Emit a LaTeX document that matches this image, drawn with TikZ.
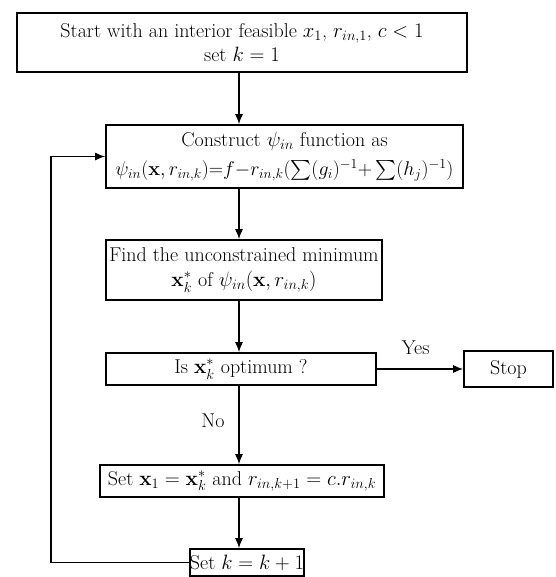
\documentclass[tikz,border=0pt]{standalone}
\usepackage{amsmath}
\usetikzlibrary{arrows.meta}
\begin{document}
\begin{tikzpicture}[x=1pt,y=-1pt,
  box/.style={draw,line width=1.8pt,align=center,inner sep=0pt,font=\fontsize{20}{24}\selectfont},
  conn/.style={line width=1.1pt,-{Latex[length=10pt,width=8pt]}},
  lbl/.style={font=\fontsize{20}{24}\selectfont,inner sep=0pt}]
\useasboundingbox (0,0) rectangle (555,577);
\node[box,minimum width=450pt,minimum height=59pt] (b1) at (242,42.5)
  {Start with an interior feasible $x_1$, $r_{in,1}$, $c<1$\\ set $k=1$};
\node[box,minimum width=357pt,minimum height=63pt] (b2) at (284.5,156.5)
  {Construct $\psi_{in}$ function as\\[5pt] \resizebox{338pt}{!}{$\psi_{in}(\mathbf{x},r_{in,k}){=}f{-}r_{in,k}(\sum(g_i)^{-1}{+}\sum(h_j)^{-1})$}};
\node[box,minimum width=276pt,minimum height=60pt] (b3) at (244,270)
  {Find the unconstrained minimum\\[1pt] $\mathbf{x}_k^*$ of $\psi_{in}(\mathbf{x},r_{in,k})$};
\node[box,minimum width=270pt,minimum height=32pt] (b4) at (241,369)
  {Is $\mathbf{x}_k^*$ optimum ?};
\node[box,minimum width=89pt,minimum height=36pt] (stop) at (508.5,369) {Stop};
\node[box,minimum width=284pt,minimum height=32pt] (b5) at (242,481)
  {Set $\mathbf{x}_1=\mathbf{x}_k^*$ and $r_{in,k+1}=c.r_{in,k}$};
\node[box,minimum width=112pt,minimum height=27pt] (b6) at (247,562.5)
  {Set $k=k+1$};
\coordinate (ax) at (239,0);
\coordinate (lb) at (51,562.5);
\coordinate (lt) at (51,156.5);
\draw[conn] (b1.south -| ax) -- (b2.north -| ax);
\draw[conn] (b2.south -| ax) -- (b3.north -| ax);
\draw[conn] (b3.south -| ax) -- (b4.north -| ax);
\draw[conn] (b4.south -| ax) -- node[lbl,pos=0.45,left=14pt] (no) {No} (b5.north -| ax);
\draw[conn] (b5.south -| ax) -- (b6.north -| ax);
\draw[conn] (b4.east) -- node[lbl,above=14pt,pos=0.45] (yes) {Yes} (stop.west);
\draw[conn] (b6.west) -- (lb) -- (lt) -- (b2.west);
\end{tikzpicture}
\end{document}
